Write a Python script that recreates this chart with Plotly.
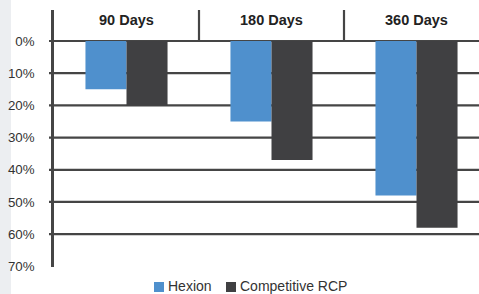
import plotly.graph_objects as go

categories = ["90 Days", "180 Days", "360 Days"]
hexion = [15, 25, 48]
competitive = [20, 37, 58]
tick_values = [0, 10, 20, 30, 40, 50, 60, 70]
grid_values = [0, 10, 20, 30, 40, 50, 60]
series_names = ["Hexion", "Competitive RCP"]

BLUE = "#4F90CD"
DARK = "#404042"
LINE = "#454545"
FONT = "Liberation Sans, Arial, sans-serif"

fig = go.Figure()
fig.add_trace(go.Bar(name=series_names[0], x=categories, y=hexion, marker_color=BLUE, marker_line_width=0))
fig.add_trace(go.Bar(name=series_names[1], x=categories, y=competitive, marker_color=DARK, marker_line_width=0))

W, H = 479, 294
ml, mr, mt, mb = 54, 0, 10, 27
pw = W - ml - mr
ph = H - mt - mb

def px_x(p):
    return (p - ml) / pw

def px_y(p):
    return 1 - (p - mt) / ph

shapes = []
for v in grid_values:
    shapes.append(dict(type="line", xref="paper", yref="y", x0=-5 / pw, x1=1, y0=v, y1=v,
                       line=dict(color=LINE, width=2.2), layer="below"))
for i in range(len(categories) - 1):
    shapes.append(dict(type="line", xref="x", yref="paper", x0=i + 0.5, x1=i + 0.5,
                       y0=1 - 31 / ph, y1=1, line=dict(color=LINE, width=2.2), layer="below"))
shapes.append(dict(type="rect", xref="paper", yref="paper", x0=px_x(0), x1=px_x(11),
                   y0=px_y(H), y1=px_y(0), fillcolor="#ECEEF1", line_width=0, layer="below"))

annotations = [dict(x=c, y=-6.4, xref="x", yref="y", text="<b>%s</b>" % c, showarrow=False,
                    font=dict(family=FONT, size=14.5, color="#222222")) for c in categories]

legend_items = [(series_names[0], BLUE, 154, 166), (series_names[1], DARK, 226, 238)]
for name, col, sx, tx in legend_items:
    shapes.append(dict(type="rect", xref="paper", yref="paper", x0=px_x(sx), x1=px_x(sx + 10),
                       y0=px_y(292), y1=px_y(282), fillcolor=col, line_width=0))
    annotations.append(dict(x=px_x(tx), y=px_y(286), xref="paper", yref="paper", text=name,
                            showarrow=False, xanchor="left", yanchor="middle",
                            font=dict(family=FONT, size=14, color="#333333")))

fig.update_layout(
    width=W, height=H,
    margin=dict(l=ml, r=mr, t=mt, b=mb, autoexpand=False),
    paper_bgcolor="white", plot_bgcolor="white",
    barmode="group", bargap=0.434, bargroupgap=0,
    font=dict(family=FONT, size=12, color="#333333"),
    shapes=shapes, annotations=annotations,
    showlegend=False,
    xaxis=dict(range=[-0.5, -0.5 + pw / 145], showticklabels=False, showgrid=False,
               zeroline=False, showline=False, ticks="", automargin=False),
    yaxis=dict(range=[70.2, -9.63], tickvals=tick_values,
               ticktext=["%d%%" % v for v in tick_values], showgrid=False, zeroline=False,
               showline=True, linecolor=LINE, linewidth=2.5, ticks="", automargin=False,
               ticklabelstandoff=14, tickfont=dict(family=FONT, size=13.3, color="#333333")),
)

fig.write_html("out.html", config={"displayModeBar": False},
               post_script="document.body.style.margin='0';document.body.style.overflow='hidden';")
